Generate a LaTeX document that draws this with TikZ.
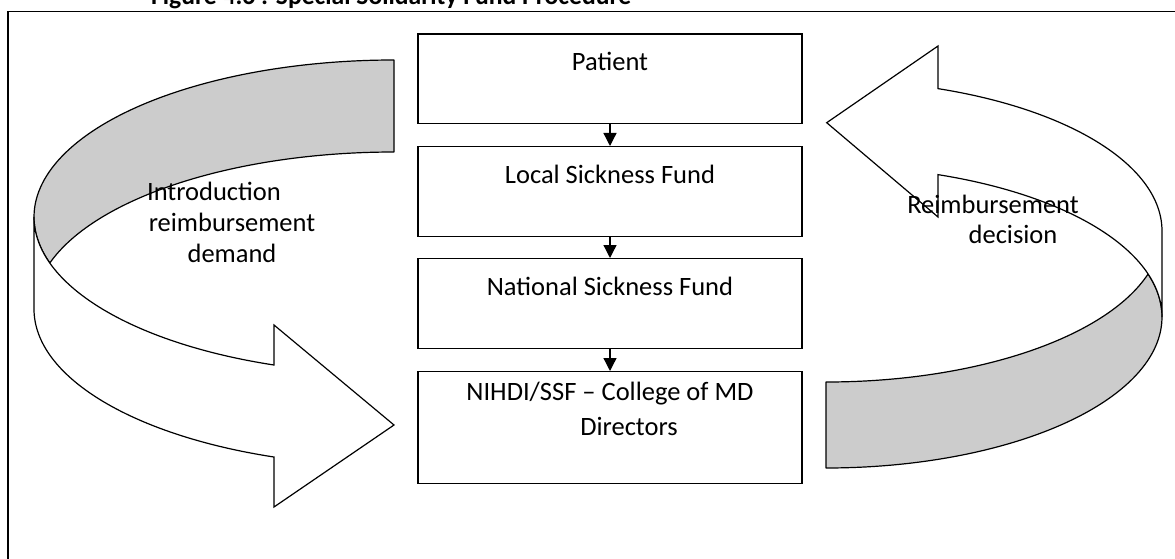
\documentclass[tikz,border=0pt]{standalone}
\usepackage{fontspec}
\setmainfont{Carlito}
\usetikzlibrary{arrows.meta,calc}
\definecolor{band}{RGB}{204,204,204}
\tikzset{
  frameline/.style={line width=1.5pt},
  stepbox/.style={draw, line width=1.3pt, minimum width=384pt, inner sep=0pt, anchor=north},
  boxtxt/.style={anchor=base, inner sep=0pt, font=\fontsize{26.5}{30}\selectfont},
  arrtxt/.style={anchor=base, inner sep=0pt, font=\fontsize{26.5}{30}\selectfont},
  flow/.style={line width=1.3pt, -{Triangle[length=13pt,width=13pt]}},
  backband/.style={draw, line width=1.2pt, fill=band, line join=round},
  frontband/.style={draw, line width=1.2pt, fill=white, line join=miter},
}
\begin{document}
\begin{tikzpicture}[x=1pt,y=1pt]
\useasboundingbox (0,0) rectangle (1175,-559);
\clip (0,0) rectangle (1175,-559);
\fill[white] (0,0) rectangle (1175,-559);

% title (cut off at the top, as in the reference)
\node[anchor=base west, inner sep=0pt, font=\bfseries\fontsize{25.6}{30}\selectfont] (title) at (151,-4.6) {Figure 4.6 : Special Solidarity Fund Procedure};

% frame
\draw[frameline] (8,-640) -- (8,-11.5) -- (1260,-11.5);

% boxes
\node[stepbox, minimum height=89.5pt] (b1) at (610,-33.5) {};
\node[stepbox, minimum height=90pt] (b2) at (610,-146) {};
\node[stepbox, minimum height=90pt] (b3) at (610,-258) {};
\node[stepbox, minimum height=112pt] (b4) at (610,-371) {};

\node[boxtxt] (t1) at ($(b1.north)+(0,-37.5)$) {Patient};
\node[boxtxt] (t2) at ($(b2.north)+(0,-37)$) {Local Sickness Fund};
\node[boxtxt] (t3) at ($(b3.north)+(0,-37)$) {National Sickness Fund};
\node[boxtxt] (t4) at ($(b4.north)+(0,-29)$) {NIHDI/SSF – College of MD};
\node[boxtxt] (t4b) at ($(b4.north)+(19,-64)$) {Directors};

\draw[flow] (b1.south) -- (b2.north);
\draw[flow] (b2.south) -- (b3.north);
\draw[flow] (b3.south) -- (b4.north);

% left curved arrow
\coordinate (LA) at (394,-217);
\coordinate (LB) at (394,-309);
\draw[backband] ($(LA)+(90:360pt and 157pt)$)
  arc[start angle=90, end angle=197.04, x radius=360pt, y radius=157pt]
  arc[start angle=162.96, end angle=90, x radius=360pt, y radius=157pt] -- cycle;
\coordinate (Lhu) at (274,-325);
\coordinate (Ltip) at (394,-425);
\coordinate (Lhd) at (274,-507);
\draw[frontband] ($(LA)+(180:360pt and 157pt)$)
  arc[start angle=180, end angle=250.53, x radius=360pt, y radius=157pt]
  -- (Lhu) -- (Ltip) -- (Lhd) -- ($(LB)+(250.53:360pt and 157pt)$)
  arc[start angle=250.53, end angle=180, x radius=360pt, y radius=157pt] -- cycle;

% right curved arrow
\coordinate (RA) at (826,-317);
\coordinate (RB) at (826,-231);
\draw[backband] ($(RA)+(270:336pt and 151pt)$)
  arc[start angle=270, end angle=376.545, x radius=336pt, y radius=151pt]
  arc[start angle=343.455, end angle=270, x radius=336pt, y radius=151pt] -- cycle;
\coordinate (Rhu) at (938,-46);
\coordinate (Rtip) at (826.7,-122.7);
\coordinate (Rhd) at (938,-217);
\draw[frontband] ($(RA)+(0:336pt and 151pt)$) -- ($(RB)+(0:336pt and 151pt)$)
  arc[start angle=0, end angle=70.53, x radius=336pt, y radius=151pt]
  -- (Rhu) -- (Rtip) -- (Rhd) -- ($(RA)+(70.53:336pt and 151pt)$)
  arc[start angle=70.53, end angle=0, x radius=336pt, y radius=151pt] -- cycle;

% arrow labels
\node[arrtxt] (l1) at (214,-200) {Introduction};
\node[arrtxt] (l2) at (232,-231) {reimbursement};
\node[arrtxt] (l3) at (232,-262) {demand};
\node[arrtxt] (r1) at (993,-213) {Reimbursement};
\node[arrtxt] (r2) at (1013,-243) {decision};
\end{tikzpicture}
\end{document}
